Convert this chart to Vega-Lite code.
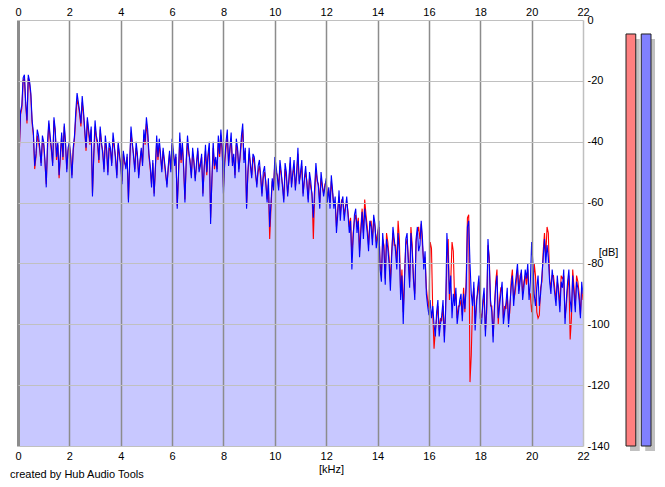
{
  "$schema": "https://vega.github.io/schema/vega-lite/v6.json",
  "background": "white",
  "padding": {"left": 10, "top": 6, "right": 5, "bottom": 5},
  "bounds": "flush",
  "spacing": 43,
  "config": {
    "font": "Liberation Sans",
    "view": {"stroke": null},
    "axis": {"labelFontSize": 11, "labelColor": "#000", "titleFontSize": 11, "titleFontWeight": "normal", "titleColor": "#000", "ticks": false, "domain": false}
  },
  "datasets": {
    "spec": [
      {"k":0.0,"b":-54,"r":-55},{"k":0.05,"b":-42,"r":-44},{"k":0.1,"b":-30,"r":-31},{"k":0.15,"b":-28,"r":-29},{"k":0.2,"b":-19,"r":-20},{"k":0.25,"b":-18,"r":-19},
      {"k":0.3,"b":-27,"r":-28},{"k":0.35,"b":-33,"r":-34},{"k":0.4,"b":-18,"r":-19},{"k":0.45,"b":-20,"r":-21},{"k":0.5,"b":-24,"r":-25},{"k":0.55,"b":-33,"r":-34},
      {"k":0.6,"b":-37,"r":-38},{"k":0.65,"b":-48,"r":-49},{"k":0.7,"b":-44,"r":-45},{"k":0.75,"b":-36,"r":-38},{"k":0.8,"b":-38,"r":-40},{"k":0.85,"b":-42,"r":-43},
      {"k":0.9,"b":-48,"r":-47},{"k":0.95,"b":-38,"r":-40},{"k":1.0,"b":-40,"r":-41},{"k":1.05,"b":-46,"r":-47},{"k":1.1,"b":-55,"r":-54},{"k":1.15,"b":-40,"r":-42},
      {"k":1.2,"b":-33,"r":-34},{"k":1.25,"b":-38,"r":-39},{"k":1.3,"b":-42,"r":-43},{"k":1.35,"b":-48,"r":-47},{"k":1.4,"b":-32,"r":-33},{"k":1.45,"b":-36,"r":-37},
      {"k":1.5,"b":-45,"r":-46},{"k":1.55,"b":-40,"r":-41},{"k":1.6,"b":-51,"r":-52},{"k":1.65,"b":-44,"r":-45},{"k":1.7,"b":-37,"r":-38},{"k":1.75,"b":-45,"r":-46},
      {"k":1.8,"b":-34,"r":-35},{"k":1.85,"b":-40,"r":-41},{"k":1.9,"b":-50,"r":-49},{"k":1.95,"b":-42,"r":-43},{"k":2.0,"b":-40,"r":-41},{"k":2.05,"b":-45,"r":-44},
      {"k":2.1,"b":-52,"r":-51},{"k":2.15,"b":-42,"r":-43},{"k":2.2,"b":-38,"r":-39},{"k":2.25,"b":-30,"r":-32},{"k":2.3,"b":-24,"r":-26},{"k":2.35,"b":-27,"r":-28},
      {"k":2.4,"b":-30,"r":-31},{"k":2.45,"b":-34,"r":-35},{"k":2.5,"b":-25,"r":-27},{"k":2.55,"b":-30,"r":-31},{"k":2.6,"b":-36,"r":-37},{"k":2.65,"b":-42,"r":-43},
      {"k":2.7,"b":-32,"r":-33},{"k":2.75,"b":-36,"r":-37},{"k":2.8,"b":-40,"r":-41},{"k":2.85,"b":-35,"r":-36},{"k":2.9,"b":-58,"r":-57},{"k":2.95,"b":-44,"r":-45},
      {"k":3.0,"b":-33,"r":-35},{"k":3.05,"b":-38,"r":-39},{"k":3.1,"b":-40,"r":-41},{"k":3.15,"b":-46,"r":-47},{"k":3.2,"b":-35,"r":-36},{"k":3.25,"b":-40,"r":-41},
      {"k":3.3,"b":-44,"r":-43},{"k":3.35,"b":-50,"r":-49},{"k":3.4,"b":-38,"r":-40},{"k":3.45,"b":-42,"r":-43},{"k":3.5,"b":-51,"r":-50},{"k":3.55,"b":-40,"r":-42},
      {"k":3.6,"b":-42,"r":-43},{"k":3.65,"b":-48,"r":-47},{"k":3.7,"b":-37,"r":-39},{"k":3.75,"b":-41,"r":-42},{"k":3.8,"b":-46,"r":-45},{"k":3.85,"b":-52,"r":-51},
      {"k":3.9,"b":-40,"r":-41},{"k":3.95,"b":-44,"r":-45},{"k":4.0,"b":-48,"r":-47},{"k":4.05,"b":-54,"r":-53},{"k":4.1,"b":-43,"r":-44},{"k":4.15,"b":-46,"r":-47},
      {"k":4.2,"b":-49,"r":-48},{"k":4.25,"b":-44,"r":-45},{"k":4.3,"b":-60,"r":-59},{"k":4.35,"b":-46,"r":-47},{"k":4.4,"b":-35,"r":-37},{"k":4.45,"b":-40,"r":-41},
      {"k":4.5,"b":-45,"r":-44},{"k":4.55,"b":-50,"r":-49},{"k":4.6,"b":-40,"r":-42},{"k":4.65,"b":-44,"r":-45},{"k":4.7,"b":-52,"r":-51},{"k":4.75,"b":-46,"r":-47},
      {"k":4.8,"b":-42,"r":-43},{"k":4.85,"b":-48,"r":-47},{"k":4.9,"b":-36,"r":-38},{"k":4.95,"b":-40,"r":-41},{"k":5.0,"b":-32,"r":-34},{"k":5.05,"b":-36,"r":-38},
      {"k":5.1,"b":-44,"r":-45},{"k":5.15,"b":-48,"r":-49},{"k":5.2,"b":-55,"r":-54},{"k":5.25,"b":-46,"r":-47},{"k":5.3,"b":-58,"r":-57},{"k":5.35,"b":-48,"r":-49},
      {"k":5.4,"b":-38,"r":-40},{"k":5.45,"b":-45,"r":-46},{"k":5.5,"b":-39,"r":-41},{"k":5.55,"b":-44,"r":-45},{"k":5.6,"b":-50,"r":-49},{"k":5.65,"b":-42,"r":-43},
      {"k":5.7,"b":-46,"r":-47},{"k":5.75,"b":-50,"r":-51},{"k":5.8,"b":-55,"r":-54},{"k":5.85,"b":-48,"r":-49},{"k":5.9,"b":-43,"r":-44},{"k":5.95,"b":-50,"r":-49},
      {"k":6.0,"b":-39,"r":-41},{"k":6.05,"b":-43,"r":-44},{"k":6.1,"b":-48,"r":-47},{"k":6.15,"b":-44,"r":-45},{"k":6.2,"b":-62,"r":-61},{"k":6.25,"b":-50,"r":-51},
      {"k":6.3,"b":-37,"r":-39},{"k":6.35,"b":-46,"r":-47},{"k":6.4,"b":-40,"r":-41},{"k":6.45,"b":-48,"r":-49},{"k":6.5,"b":-60,"r":-59},{"k":6.55,"b":-46,"r":-47},
      {"k":6.6,"b":-38,"r":-40},{"k":6.65,"b":-43,"r":-44},{"k":6.7,"b":-47,"r":-46},{"k":6.75,"b":-52,"r":-51},{"k":6.8,"b":-42,"r":-44},{"k":6.85,"b":-46,"r":-47},
      {"k":6.9,"b":-53,"r":-52},{"k":6.95,"b":-47,"r":-48},{"k":7.0,"b":-42,"r":-43},{"k":7.05,"b":-50,"r":-49},{"k":7.1,"b":-48,"r":-47},{"k":7.15,"b":-44,"r":-45},
      {"k":7.2,"b":-58,"r":-57},{"k":7.25,"b":-48,"r":-49},{"k":7.3,"b":-41,"r":-43},{"k":7.35,"b":-50,"r":-51},{"k":7.4,"b":-44,"r":-45},{"k":7.45,"b":-40,"r":-42},
      {"k":7.5,"b":-67,"r":-65},{"k":7.55,"b":-52,"r":-53},{"k":7.6,"b":-40,"r":-42},{"k":7.65,"b":-48,"r":-49},{"k":7.7,"b":-45,"r":-46},{"k":7.75,"b":-50,"r":-49},
      {"k":7.8,"b":-38,"r":-40},{"k":7.85,"b":-44,"r":-45},{"k":7.9,"b":-36,"r":-38},{"k":7.95,"b":-42,"r":-43},{"k":8.0,"b":-57,"r":-55},{"k":8.05,"b":-46,"r":-47},
      {"k":8.1,"b":-40,"r":-42},{"k":8.15,"b":-36,"r":-38},{"k":8.2,"b":-48,"r":-47},{"k":8.25,"b":-42,"r":-43},{"k":8.3,"b":-37,"r":-39},{"k":8.35,"b":-48,"r":-47},
      {"k":8.4,"b":-44,"r":-45},{"k":8.45,"b":-52,"r":-51},{"k":8.5,"b":-39,"r":-41},{"k":8.55,"b":-42,"r":-43},{"k":8.6,"b":-50,"r":-49},{"k":8.65,"b":-44,"r":-45},
      {"k":8.7,"b":-38,"r":-40},{"k":8.75,"b":-34,"r":-36},{"k":8.8,"b":-47,"r":-46},{"k":8.85,"b":-42,"r":-43},{"k":8.9,"b":-62,"r":-61},{"k":8.95,"b":-50,"r":-51},
      {"k":9.0,"b":-42,"r":-44},{"k":9.05,"b":-48,"r":-47},{"k":9.1,"b":-52,"r":-51},{"k":9.15,"b":-44,"r":-45},{"k":9.2,"b":-45,"r":-47},{"k":9.25,"b":-50,"r":-51},
      {"k":9.3,"b":-55,"r":-54},{"k":9.35,"b":-48,"r":-50},{"k":9.4,"b":-46,"r":-48},{"k":9.45,"b":-52,"r":-51},{"k":9.5,"b":-58,"r":-57},{"k":9.55,"b":-50,"r":-52},
      {"k":9.6,"b":-48,"r":-50},{"k":9.65,"b":-54,"r":-53},{"k":9.7,"b":-60,"r":-59},{"k":9.75,"b":-52,"r":-54},{"k":9.8,"b":-68,"r":-72},{"k":9.85,"b":-60,"r":-62},
      {"k":9.9,"b":-52,"r":-53},{"k":9.95,"b":-56,"r":-55},{"k":10.0,"b":-45,"r":-47},{"k":10.05,"b":-48,"r":-50},{"k":10.1,"b":-52,"r":-51},{"k":10.15,"b":-56,"r":-55},
      {"k":10.2,"b":-46,"r":-48},{"k":10.25,"b":-50,"r":-51},{"k":10.3,"b":-55,"r":-54},{"k":10.35,"b":-60,"r":-59},{"k":10.4,"b":-47,"r":-49},{"k":10.45,"b":-50,"r":-52},
      {"k":10.5,"b":-58,"r":-57},{"k":10.55,"b":-52,"r":-53},{"k":10.6,"b":-45,"r":-47},{"k":10.65,"b":-55,"r":-54},{"k":10.7,"b":-50,"r":-51},{"k":10.75,"b":-46,"r":-48},
      {"k":10.8,"b":-56,"r":-55},{"k":10.85,"b":-50,"r":-51},{"k":10.9,"b":-42,"r":-44},{"k":10.95,"b":-54,"r":-53},{"k":11.0,"b":-50,"r":-51},{"k":11.05,"b":-46,"r":-48},
      {"k":11.1,"b":-58,"r":-57},{"k":11.15,"b":-52,"r":-53},{"k":11.2,"b":-48,"r":-50},{"k":11.25,"b":-54,"r":-53},{"k":11.3,"b":-60,"r":-59},{"k":11.35,"b":-50,"r":-52},
      {"k":11.4,"b":-53,"r":-55},{"k":11.45,"b":-58,"r":-57},{"k":11.5,"b":-65,"r":-72},{"k":11.55,"b":-55,"r":-58},{"k":11.6,"b":-47,"r":-49},{"k":11.65,"b":-52,"r":-53},
      {"k":11.7,"b":-55,"r":-54},{"k":11.75,"b":-62,"r":-60},{"k":11.8,"b":-50,"r":-52},{"k":11.85,"b":-54,"r":-55},{"k":11.9,"b":-58,"r":-57},{"k":11.95,"b":-55,"r":-54},
      {"k":12.0,"b":-52,"r":-53},{"k":12.05,"b":-60,"r":-58},{"k":12.1,"b":-55,"r":-56},{"k":12.15,"b":-62,"r":-60},{"k":12.2,"b":-51,"r":-53},{"k":12.25,"b":-56,"r":-57},
      {"k":12.3,"b":-62,"r":-61},{"k":12.35,"b":-58,"r":-60},{"k":12.4,"b":-70,"r":-68},{"k":12.45,"b":-64,"r":-62},{"k":12.5,"b":-56,"r":-58},{"k":12.55,"b":-66,"r":-64},
      {"k":12.6,"b":-60,"r":-59},{"k":12.65,"b":-58,"r":-60},{"k":12.7,"b":-66,"r":-64},{"k":12.75,"b":-62,"r":-61},{"k":12.8,"b":-58,"r":-60},{"k":12.85,"b":-64,"r":-63},
      {"k":12.9,"b":-70,"r":-68},{"k":12.95,"b":-66,"r":-65},{"k":13.0,"b":-82,"r":-78},{"k":13.05,"b":-72,"r":-70},{"k":13.1,"b":-64,"r":-66},{"k":13.15,"b":-62,"r":-64},
      {"k":13.2,"b":-70,"r":-68},{"k":13.25,"b":-66,"r":-65},{"k":13.3,"b":-78,"r":-76},{"k":13.35,"b":-70,"r":-68},{"k":13.4,"b":-63,"r":-62},{"k":13.45,"b":-72,"r":-70},
      {"k":13.5,"b":-62,"r":-59},{"k":13.55,"b":-66,"r":-64},{"k":13.6,"b":-70,"r":-68},{"k":13.65,"b":-76,"r":-74},{"k":13.7,"b":-66,"r":-67},{"k":13.75,"b":-68,"r":-66},
      {"k":13.8,"b":-74,"r":-72},{"k":13.85,"b":-64,"r":-66},{"k":13.9,"b":-67,"r":-68},{"k":13.95,"b":-75,"r":-73},{"k":14.0,"b":-72,"r":-70},{"k":14.05,"b":-66,"r":-68},
      {"k":14.1,"b":-82,"r":-80},{"k":14.15,"b":-86,"r":-84},{"k":14.2,"b":-70,"r":-72},{"k":14.25,"b":-76,"r":-74},{"k":14.3,"b":-87,"r":-85},{"k":14.35,"b":-72,"r":-70},
      {"k":14.4,"b":-75,"r":-73},{"k":14.45,"b":-80,"r":-78},{"k":14.5,"b":-89,"r":-86},{"k":14.55,"b":-78,"r":-76},{"k":14.6,"b":-68,"r":-70},{"k":14.65,"b":-72,"r":-74},
      {"k":14.7,"b":-76,"r":-74},{"k":14.75,"b":-82,"r":-80},{"k":14.8,"b":-70,"r":-66},{"k":14.85,"b":-76,"r":-72},{"k":14.9,"b":-92,"r":-90},{"k":14.95,"b":-84,"r":-82},
      {"k":15.0,"b":-100,"r":-96},{"k":15.05,"b":-86,"r":-84},{"k":15.1,"b":-72,"r":-74},{"k":15.15,"b":-70,"r":-72},{"k":15.2,"b":-80,"r":-78},{"k":15.25,"b":-88,"r":-86},
      {"k":15.3,"b":-70,"r":-68},{"k":15.35,"b":-76,"r":-74},{"k":15.4,"b":-85,"r":-86},{"k":15.45,"b":-92,"r":-90},{"k":15.5,"b":-72,"r":-73},{"k":15.55,"b":-68,"r":-70},
      {"k":15.6,"b":-76,"r":-68},{"k":15.65,"b":-74,"r":-72},{"k":15.7,"b":-66,"r":-67},{"k":15.75,"b":-72,"r":-74},{"k":15.8,"b":-82,"r":-80},{"k":15.85,"b":-76,"r":-78},
      {"k":15.9,"b":-90,"r":-88},{"k":15.95,"b":-94,"r":-92},{"k":16.0,"b":-97,"r":-95},{"k":16.05,"b":-92,"r":-73},{"k":16.1,"b":-98,"r":-75},{"k":16.15,"b":-94,"r":-96},
      {"k":16.2,"b":-100,"r":-108},{"k":16.25,"b":-104,"r":-102},{"k":16.3,"b":-96,"r":-98},{"k":16.35,"b":-92,"r":-94},{"k":16.4,"b":-104,"r":-102},{"k":16.45,"b":-100,"r":-98},
      {"k":16.5,"b":-97,"r":-99},{"k":16.55,"b":-92,"r":-94},{"k":16.6,"b":-106,"r":-104},{"k":16.65,"b":-96,"r":-95},{"k":16.7,"b":-70,"r":-80},{"k":16.75,"b":-78,"r":-72},
      {"k":16.8,"b":-90,"r":-92},{"k":16.85,"b":-84,"r":-86},{"k":16.9,"b":-98,"r":-73},{"k":16.95,"b":-90,"r":-76},{"k":17.0,"b":-94,"r":-92},{"k":17.05,"b":-88,"r":-90},
      {"k":17.1,"b":-100,"r":-98},{"k":17.15,"b":-96,"r":-94},{"k":17.2,"b":-92,"r":-94},{"k":17.25,"b":-90,"r":-92},{"k":17.3,"b":-99,"r":-97},{"k":17.35,"b":-90,"r":-88},
      {"k":17.4,"b":-95,"r":-96},{"k":17.45,"b":-88,"r":-86},{"k":17.5,"b":-68,"r":-65},{"k":17.55,"b":-66,"r":-64},{"k":17.6,"b":-80,"r":-119},{"k":17.65,"b":-90,"r":-110},
      {"k":17.7,"b":-94,"r":-92},{"k":17.75,"b":-86,"r":-88},{"k":17.8,"b":-102,"r":-100},{"k":17.85,"b":-94,"r":-92},{"k":17.9,"b":-88,"r":-90},{"k":17.95,"b":-84,"r":-86},
      {"k":18.0,"b":-98,"r":-96},{"k":18.05,"b":-100,"r":-98},{"k":18.1,"b":-92,"r":-94},{"k":18.15,"b":-88,"r":-90},{"k":18.2,"b":-104,"r":-102},{"k":18.25,"b":-94,"r":-96},
      {"k":18.3,"b":-72,"r":-74},{"k":18.35,"b":-80,"r":-78},{"k":18.4,"b":-92,"r":-94},{"k":18.45,"b":-96,"r":-94},{"k":18.5,"b":-106,"r":-104},{"k":18.55,"b":-94,"r":-96},
      {"k":18.6,"b":-88,"r":-86},{"k":18.65,"b":-84,"r":-82},{"k":18.7,"b":-98,"r":-100},{"k":18.75,"b":-94,"r":-92},{"k":18.8,"b":-90,"r":-88},{"k":18.85,"b":-86,"r":-88},
      {"k":18.9,"b":-100,"r":-98},{"k":18.95,"b":-96,"r":-94},{"k":19.0,"b":-93,"r":-95},{"k":19.05,"b":-88,"r":-90},{"k":19.1,"b":-101,"r":-99},{"k":19.15,"b":-94,"r":-96},
      {"k":19.2,"b":-88,"r":-86},{"k":19.25,"b":-84,"r":-82},{"k":19.3,"b":-94,"r":-92},{"k":19.35,"b":-88,"r":-90},{"k":19.4,"b":-84,"r":-86},{"k":19.45,"b":-80,"r":-82},
      {"k":19.5,"b":-90,"r":-89},{"k":19.55,"b":-86,"r":-84},{"k":19.6,"b":-82,"r":-83},{"k":19.65,"b":-92,"r":-90},{"k":19.7,"b":-88,"r":-86},{"k":19.75,"b":-82,"r":-84},
      {"k":19.8,"b":-85,"r":-87},{"k":19.85,"b":-80,"r":-82},{"k":19.9,"b":-92,"r":-90},{"k":19.95,"b":-86,"r":-90},{"k":20.0,"b":-73,"r":-96},{"k":20.05,"b":-80,"r":-92},
      {"k":20.1,"b":-90,"r":-80},{"k":20.15,"b":-94,"r":-84},{"k":20.2,"b":-88,"r":-96},{"k":20.25,"b":-84,"r":-98},{"k":20.3,"b":-94,"r":-97},{"k":20.35,"b":-90,"r":-88},
      {"k":20.4,"b":-84,"r":-86},{"k":20.45,"b":-78,"r":-76},{"k":20.5,"b":-72,"r":-70},{"k":20.55,"b":-80,"r":-78},{"k":20.6,"b":-74,"r":-68},{"k":20.65,"b":-78,"r":-70},
      {"k":20.7,"b":-86,"r":-85},{"k":20.75,"b":-90,"r":-88},{"k":20.8,"b":-82,"r":-84},{"k":20.85,"b":-86,"r":-84},{"k":20.9,"b":-90,"r":-88},{"k":20.95,"b":-94,"r":-92},
      {"k":21.0,"b":-84,"r":-86},{"k":21.05,"b":-90,"r":-88},{"k":21.1,"b":-96,"r":-94},{"k":21.15,"b":-86,"r":-84},{"k":21.2,"b":-88,"r":-85},{"k":21.25,"b":-82,"r":-84},
      {"k":21.3,"b":-100,"r":-98},{"k":21.35,"b":-92,"r":-94},{"k":21.4,"b":-86,"r":-88},{"k":21.45,"b":-82,"r":-84},{"k":21.5,"b":-92,"r":-105},{"k":21.55,"b":-96,"r":-98},
      {"k":21.6,"b":-84,"r":-82},{"k":21.65,"b":-90,"r":-88},{"k":21.7,"b":-96,"r":-94},{"k":21.75,"b":-86,"r":-84},{"k":21.8,"b":-88,"r":-86},{"k":21.85,"b":-92,"r":-90},
      {"k":21.9,"b":-98,"r":-97},{"k":21.95,"b":-86,"r":-88},{"k":22.0,"b":-90,"r":-92}
    ],
    "meter": [
      {"ch": "L", "db": -4.6},
      {"ch": "R", "db": -4.6}
    ]
  },
  "hconcat": [
    {
      "width": 565,
      "height": 426,
      "data": {"name": "spec"},
      "title": {
        "text": "created by Hub Audio Tools",
        "orient": "bottom",
        "anchor": "start",
        "frame": "group",
        "fontSize": 11,
        "fontWeight": "normal",
        "color": "#000",
        "dx": -8,
        "offset": -5
      },
      "resolve": {"axis": {"x": "independent"}},
      "layer": [
        {
          "mark": {"type": "area", "color": "#c8c8ff", "opacity": 1},
          "encoding": {
            "x": {
              "field": "k",
              "type": "quantitative",
              "scale": {"domain": [0, 22], "nice": false},
              "axis": {
                "orient": "top",
                "title": null,
                "values": [0, 2, 4, 6, 8, 10, 12, 14, 16, 18, 20, 22],
                "labelFlush": false,
                "labelPadding": 3,
                "zindex": 1,
                "grid": true,
                "gridColor": {"condition": {"test": "datum.value == 22", "value": "#c0c0c0"}, "value": "#8c8c8c"},
                "gridWidth": {"condition": {"test": "datum.value == 0", "value": 3}, "value": 1.5}
              }
            },
            "y": {
              "field": "b",
              "type": "quantitative",
              "scale": {"domain": [-140, 0], "nice": false},
              "axis": {
                "orient": "right",
                "values": [0, -20, -40, -60, -80, -100, -120, -140],
                "labelExpr": "'' + datum.value",
                "labelPadding": 4,
                "labelAlign": "left",
                "zindex": 1,
                "grid": true,
                "gridColor": "#c0c0c0",
                "gridWidth": 1,
                "title": "[dB]",
                "titleAngle": 0,
                "titleAlign": "center",
                "titleBaseline": "middle",
                "titleX": 25,
                "titleY": 232
              }
            },
            "y2": {"datum": -140}
          }
        },
        {
          "mark": {"type": "line", "color": "#ff0000", "strokeWidth": 1.1},
          "encoding": {
            "x": {
              "field": "k",
              "type": "quantitative",
              "axis": {
                "orient": "bottom",
                "values": [0, 2, 4, 6, 8, 10, 12, 14, 16, 18, 20, 22],
                "labelFlush": false,
                "labelPadding": 4,
                "grid": false,
                "title": "[kHz]",
                "titleX": 313,
                "titleY": 23,
                "titleBaseline": "middle"
              }
            },
            "y": {"field": "r", "type": "quantitative"}
          }
        },
        {
          "mark": {"type": "line", "color": "#0000ff", "strokeWidth": 1.1},
          "encoding": {
            "x": {"field": "k", "type": "quantitative", "axis": null},
            "y": {"field": "b", "type": "quantitative"}
          }
        }
      ]
    },
    {
      "width": 25,
      "height": 426,
      "data": {"name": "meter"},
      "encoding": {
        "x": {
          "field": "ch",
          "type": "nominal",
          "scale": {"paddingInner": 0.36, "paddingOuter": 0},
          "axis": null
        },
        "y": {
          "field": "db",
          "type": "quantitative",
          "scale": {"domain": [-140, 0], "nice": false},
          "axis": null
        },
        "y2": {"datum": -140}
      },
      "layer": [
        {
          "mark": {"type": "bar", "color": "#c0c0c0", "xOffset": 4, "yOffset": 5, "y2Offset": 5}
        },
        {
          "mark": {"type": "bar", "stroke": "#202020", "strokeWidth": 1},
          "encoding": {
            "color": {
              "field": "ch",
              "type": "nominal",
              "scale": {"range": ["#ff8080", "#8080ff"]},
              "legend": null
            }
          }
        }
      ]
    }
  ]
}
